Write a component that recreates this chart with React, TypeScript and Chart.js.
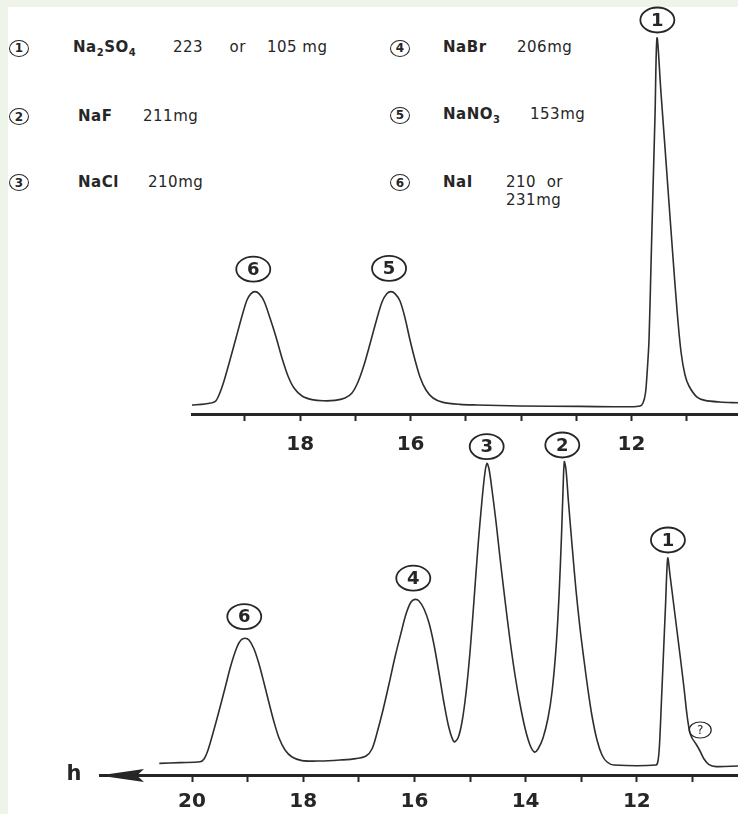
import React, { useEffect, useRef } from "react";
import { Chart, registerables } from "chart.js";

Chart.register(...registerables);

const INK = "#262626";
const TRACE = "#2e2e2e";
const FONT = '"DejaVu Sans", "Liberation Sans", sans-serif';

// ---------- Upper chromatogram (elution volume vs. detector signal) ----------
const upperElution = [19.96, 19.725, 19.543, 19.471, 19.38, 19.272, 19.163, 19.054, 18.964, 18.891, 18.819, 18.746, 18.656, 18.547, 18.438, 18.33, 18.221, 18.112, 17.967, 17.786, 17.587, 17.37, 17.188, 17.062, 16.953, 16.844, 16.736, 16.627, 16.518, 16.428, 16.355, 16.283, 16.192, 16.101, 16.011, 15.92, 15.83, 15.721, 15.594, 15.413, 15.105, 14.797, 14.018, 12.931, 12.025, 11.844, 11.79, 11.745, 11.712, 11.681, 11.645, 11.609, 11.572, 11.536, 11.464, 11.391, 11.319, 11.246, 11.174, 11.101, 11.029, 10.957, 10.817, 10.667, 10.395, 10.069];
const upperSignal = [2.25, 2.5, 3.1, 4.75, 8.25, 13.5, 19, 24.5, 28.5, 30.1, 30.6, 30.1, 28.25, 24, 19.25, 14, 9.5, 6.5, 4.5, 3.6, 3.3, 3.4, 4, 5.25, 8, 12.25, 17.5, 23, 28, 30.1, 30.6, 30.1, 28.25, 24, 18.5, 13.5, 9.25, 6, 4, 2.9, 2.4, 2.25, 2, 1.9, 1.8, 2, 2.75, 5.25, 11, 18.5, 37.25, 56, 74.75, 94, 80.25, 66.5, 52.75, 39, 26, 15.5, 9.75, 7, 4.3, 3.4, 3, 2.8];
const upperTicks = [19, 18, 17, 16, 15, 14, 13, 12, 11];
const upperTickLabels = [18, 16, 12];
const upperPeakIds = ["6", "5", "1"];
const upperPeakX = [18.85, 16.39, 11.53];
const upperPeakY = [36.2, 36.4, 98.5];

// ---------- Lower chromatogram ----------
const lowerElution = [20.588, 20.216, 19.856, 19.784, 19.712, 19.622, 19.514, 19.406, 19.299, 19.191, 19.119, 19.047, 18.975, 18.885, 18.795, 18.705, 18.615, 18.525, 18.435, 18.327, 18.201, 18.022, 17.698, 17.338, 17.05, 16.871, 16.763, 16.673, 16.565, 16.457, 16.349, 16.241, 16.151, 16.061, 15.989, 15.917, 15.827, 15.737, 15.647, 15.558, 15.468, 15.378, 15.288, 15.216, 15.144, 15.072, 15.0, 14.928, 14.856, 14.784, 14.73, 14.694, 14.658, 14.604, 14.532, 14.46, 14.371, 14.281, 14.191, 14.101, 14.011, 13.921, 13.843, 13.777, 13.687, 13.597, 13.525, 13.453, 13.399, 13.354, 13.327, 13.304, 13.273, 13.232, 13.165, 13.094, 13.022, 12.95, 12.878, 12.806, 12.716, 12.626, 12.536, 12.41, 11.655, 11.619, 11.592, 11.556, 11.52, 11.484, 11.444, 11.403, 11.34, 11.277, 11.214, 11.151, 11.097, 11.052, 11.007, 10.935, 10.863, 10.791, 10.701, 10.576, 10.18];
const lowerSignal = [2.9, 3.1, 3.3, 4, 6.25, 10.5, 16, 21.75, 27.5, 32, 33.75, 34.2, 33.75, 31.5, 27.75, 23, 18, 13.25, 9.25, 6.25, 4.5, 3.6, 3.5, 3.75, 4.1, 4.75, 6.5, 10.5, 16.25, 22.75, 29.5, 35.5, 40.25, 43.25, 43.9, 43.5, 41.5, 38, 32.5, 25.5, 18, 11.75, 8.3, 9.25, 13.25, 20.5, 30.75, 43.75, 57.25, 68.75, 75.75, 77.9, 76.5, 71.25, 63.25, 54.25, 43.75, 33.75, 25, 17.75, 11.75, 7.5, 5.75, 6.5, 9.25, 14.25, 20.75, 31.75, 44.75, 60, 71.25, 78.3, 76.25, 68.75, 57.5, 46.25, 36.75, 28.75, 21.25, 14.75, 8.75, 5, 3.25, 2.5, 2.5, 3.5, 7.5, 18.75, 30.5, 42.25, 54.2, 50, 43, 36, 29, 21.75, 15, 11, 9.25, 7.75, 6, 4, 2.6, 2.1, 2.25];
const lowerTicks = [20, 19, 18, 17, 16, 15, 14, 13, 12, 11];
const lowerTickLabels = [20, 18, 16, 14, 12];
const lowerPeakIds = ["6", "4", "3", "2", "1", "?"];
const lowerPeakX = [19.06, 16.02, 14.7, 13.34, 11.44, 10.86];
const lowerPeakY = [39.6, 49.2, 82.1, 82.5, 58.75, 11.25];
const axisName = "h";

// ---------- Key ----------
const legendIds = ["1", "2", "3", "4", "5", "6"];
const legendNames = ["Na₂SO₄", "NaF", "NaCl", "NaBr", "NaNO₃", "NaI"];
const legendAmounts = ["223     or    105 mg", "211mg", "210mg", "206mg", "153mg", "210  or\n231mg"];

// layout of the key (page pixels)
const keyLayout = [
  { cx: 19, cy: 48, nameX: 73, amtX: 173 },
  { cx: 19, cy: 116.5, nameX: 78, amtX: 143 },
  { cx: 19, cy: 182.5, nameX: 78, amtX: 148 },
  { cx: 400, cy: 48, nameX: 443, amtX: 517 },
  { cx: 400, cy: 115, nameX: 443, amtX: 530 },
  { cx: 400, cy: 182.5, nameX: 443, amtX: 506 },
];

type Panel = {
  xs: number[];
  ys: number[];
  xMin: number;
  xMax: number;
  yMax: number;
  padLeft: number;
  padTop: number;
  axisHeight: number;
  ticks: number[];
  labeled: number[];
  labelPad: number;
  ids: string[];
  px: number[];
  py: number[];
  arrow: boolean;
};

function makeChart(canvas: HTMLCanvasElement, p: Panel) {
  const peakPlugin = {
    id: "peakMarks",
    afterDatasetsDraw(chart: any) {
      const ctx = chart.ctx;
      const sx = chart.scales.x;
      const sy = chart.scales.y;
      ctx.save();
      p.ids.forEach((id, i) => {
        const x = sx.getPixelForValue(p.px[i]);
        const y = sy.getPixelForValue(p.py[i]);
        const q = id === "?";
        ctx.beginPath();
        ctx.ellipse(x, y, q ? 11 : 17, q ? 8 : 12.5, 0, 0, Math.PI * 2);
        ctx.lineWidth = q ? 1.2 : 1.8;
        ctx.strokeStyle = INK;
        ctx.stroke();
        ctx.fillStyle = INK;
        ctx.textAlign = "center";
        ctx.textBaseline = "middle";
        ctx.font = q ? `12px ${FONT}` : `bold 18px ${FONT}`;
        ctx.fillText(id, x, y + 1);
      });
      ctx.restore();
    },
  };
  const arrowPlugin = {
    id: "axisArrow",
    afterDraw(chart: any) {
      if (!p.arrow) return;
      const ctx = chart.ctx;
      const { left, bottom } = chart.chartArea;
      ctx.save();
      ctx.fillStyle = INK;
      ctx.beginPath();
      ctx.moveTo(left - 1, bottom + 0.5);
      ctx.lineTo(left + 44, bottom - 6);
      ctx.lineTo(left + 37, bottom + 0.5);
      ctx.lineTo(left + 44, bottom + 7);
      ctx.closePath();
      ctx.fill();
      ctx.font = `bold 21px ${FONT}`;
      ctx.textAlign = "center";
      ctx.textBaseline = "middle";
      ctx.fillText(axisName, left - 26, bottom);
      ctx.restore();
    },
  };
  return new Chart(canvas, {
    type: "line",
    data: {
      datasets: [
        {
          data: p.xs.map((x, i) => ({ x, y: p.ys[i] })),
          borderColor: TRACE,
          borderWidth: 1.6,
          pointRadius: 0,
          tension: 0.3,
          fill: false,
        },
      ],
    },
    options: {
      responsive: false,
      animation: false,
      devicePixelRatio: 1,
      events: [],
      layout: { padding: { left: p.padLeft, right: 0, top: p.padTop, bottom: 0 } },
      plugins: { legend: { display: false }, tooltip: { enabled: false } },
      scales: {
        x: {
          type: "linear",
          reverse: true,
          min: p.xMin,
          max: p.xMax,
          afterBuildTicks: (s: any) => {
            s.ticks = p.ticks.map((v) => ({ value: v }));
          },
          afterFit: (s: any) => {
            s.height = p.axisHeight;
          },
          grid: {
            drawOnChartArea: false,
            drawTicks: true,
            tickLength: 7,
            tickWidth: 2,
            tickColor: INK,
            color: INK,
          },
          border: { display: true, color: INK, width: 3 },
          ticks: {
            autoSkip: false,
            maxRotation: 0,
            padding: p.labelPad,
            color: INK,
            font: { family: FONT, size: 20, weight: "bold" },
            callback: (v: any) => (p.labeled.includes(Number(v)) ? String(v) : ""),
          },
        },
        y: { display: false, min: 0, max: p.yMax },
      },
    },
    plugins: [peakPlugin, arrowPlugin],
  } as any);
}

function ChemName({ text }: { text: string }) {
  const subs = "₀₁₂₃₄₅₆₇₈₉";
  return (
    <>
      {Array.from(text).map((ch, i) => {
        const k = subs.indexOf(ch);
        return k >= 0 ? (
          <span key={i} style={{ fontSize: 10, position: "relative", top: 4 }}>
            {String(k)}
          </span>
        ) : (
          <span key={i}>{ch}</span>
        );
      })}
    </>
  );
}

export default function App() {
  const topRef = useRef<HTMLCanvasElement>(null);
  const botRef = useRef<HTMLCanvasElement>(null);

  useEffect(() => {
    const upper = makeChart(topRef.current!, {
      xs: upperElution,
      ys: upperSignal,
      xMin: 10.069,
      xMax: 19.96,
      yMax: 95,
      padLeft: 192,
      padTop: 34,
      axisHeight: 46,
      ticks: upperTicks,
      labeled: upperTickLabels,
      labelPad: 12,
      ids: upperPeakIds,
      px: upperPeakX,
      py: upperPeakY,
      arrow: false,
    });
    const lower = makeChart(botRef.current!, {
      xs: lowerElution,
      ys: lowerSignal,
      xMin: 10.18,
      xMax: 21.655,
      yMax: 80,
      padLeft: 100,
      padTop: 35,
      axisHeight: 39,
      ticks: lowerTicks,
      labeled: lowerTickLabels,
      labelPad: 8,
      ids: lowerPeakIds,
      px: lowerPeakX,
      py: lowerPeakY,
      arrow: true,
    });
    return () => {
      upper.destroy();
      lower.destroy();
    };
  }, []);

  return (
    <div
      style={{
        position: "fixed",
        left: 0,
        top: 0,
        width: 738,
        height: 814,
        background: "#eef4ea",
        overflow: "hidden",
      }}
    >
      <div style={{ position: "absolute", left: 8, top: 7, right: 0, bottom: 0, background: "#ffffff" }} />
      {legendIds.map((id, i) => {
        const L = keyLayout[i];
        return (
          <React.Fragment key={id}>
            <div
              style={{
                position: "absolute",
                left: L.cx - 10,
                top: L.cy - 8.5,
                width: 20,
                height: 17,
                border: `1.5px solid ${INK}`,
                borderRadius: "50%",
                boxSizing: "border-box",
                display: "flex",
                alignItems: "center",
                justifyContent: "center",
                font: `bold 12px ${FONT}`,
                color: INK,
              }}
            >
              {id}
            </div>
            <div
              style={{
                position: "absolute",
                left: L.nameX,
                top: L.cy - 10,
                lineHeight: "20px",
                font: `bold 15px ${FONT}`,
                letterSpacing: 0.5,
                color: INK,
                whiteSpace: "pre",
              }}
            >
              <ChemName text={legendNames[i]} />
            </div>
            <div
              style={{
                position: "absolute",
                left: L.amtX,
                top: L.cy - 10,
                lineHeight: "18px",
                fontFamily: FONT,
                fontSize: 15,
                letterSpacing: 0.5,
                color: INK,
                whiteSpace: "pre",
              }}
            >
              {legendAmounts[i]}
            </div>
          </React.Fragment>
        );
      })}
      <canvas
        ref={topRef}
        width={738}
        height={460}
        style={{ position: "absolute", left: 0, top: 0, width: 738, height: 460, display: "block" }}
      />
      <canvas
        ref={botRef}
        width={738}
        height={394}
        style={{ position: "absolute", left: 0, top: 420, width: 738, height: 394, display: "block" }}
      />
    </div>
  );
}
